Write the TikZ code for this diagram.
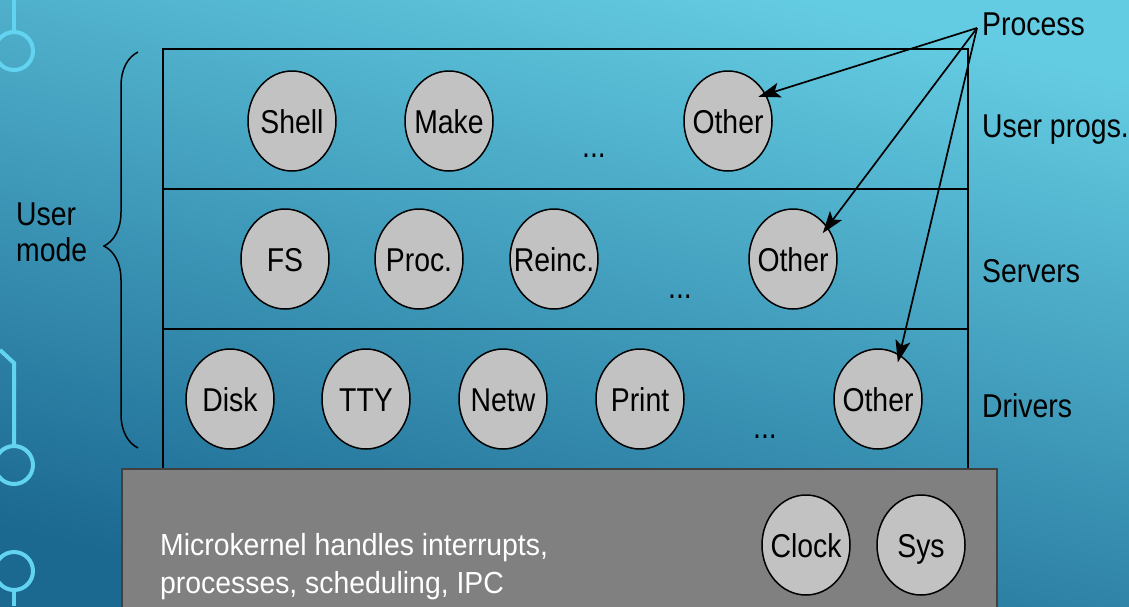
\documentclass[tikz,border=0pt]{standalone}
\usepackage{fontspec}
\setmainfont{Liberation Sans}[FakeStretch=0.86]
\newfontfamily\kernelfont{Liberation Sans}[FakeStretch=0.93]
\usetikzlibrary{shapes.geometric}
\usetikzlibrary{arrows.meta, decorations.pathreplacing}
\definecolor{slideLight}{RGB}{100, 204, 226}
\definecolor{slideDark}{RGB}{27, 104, 145}
\definecolor{traceCyan}{RGB}{98, 212, 242}
\colorlet{proc area}{black!24}
\colorlet{kernel area}{black!50}
\tikzset{
    proc/.style={ellipse, fill=proc area, draw=black, line width=1.5pt,
        minimum width=88pt, minimum height=100pt, inner sep=0pt,
        text height=24pt, text depth=0pt},
    layer/.style={draw=black, line width=2pt},
    trace/.style={draw=traceCyan, line width=4pt},
    pointer/.style={-{Stealth[length=22pt, width=15pt, inset=5pt]},
        line width=1.7pt, shorten >=-8pt},
    sidetext/.style={anchor=base west, inner sep=0pt},
    dotsep/.style={inner sep=0pt}
}
\def\slidebox{(0,0) rectangle (1129,606)}
\def\pn#1{\makebox[0pt]{#1}}

\begin{document}
\begin{tikzpicture}[x=1pt, y=-1pt, font=\fontsize{33}{36}\selectfont]
        % Slide background
        \useasboundingbox \slidebox;
        \clip \slidebox;
        \shade[top color=slideLight, bottom color=slideDark, shading angle=-14] \slidebox;

        % Circuit traces on the left edge
        \draw[trace] (14,0) -- (14,32);
        \draw[trace] (14,51) circle (19pt);
        \draw[trace] (0,350) -- (14,363) -- (14,446);
        \draw[trace] (14,465) circle (19pt);
        \draw[trace] (14,571) circle (19pt);
        \draw[trace] (14,590) -- (14,606);

        % Layers
        \draw[layer] (163,49) rectangle (968,189);
        \draw[layer] (163,189) rectangle (968,329);
        \draw[layer] (163,329) rectangle (968,469);
        \filldraw[fill=kernel area, draw=black!75, line width=2pt] (122,469) rectangle (997,620);

        % User programs
        \node[proc] (shell) at (292,121) {\pn{Shell}};
        \node[proc] (make) at (449,121) {\pn{Make}};
        \node[dotsep] (udots) at (594,156) {...};
        \node[proc] (uother) at (728,121) {\pn{Other}};

        % Servers
        \node[proc] (fs) at (285,259) {\pn{FS}};
        \node[proc] (pm) at (419,259) {\pn{Proc.}};
        \node[proc] (rs) at (554,259) {\pn{Reinc.}};
        \node[dotsep] (sdots) at (680,297) {...};
        \node[proc] (sother) at (793,259) {\pn{Other}};

        % Drivers
        \node[proc] (disk) at (230,399) {\pn{Disk}};
        \node[proc] (tty) at (366,399) {\pn{TTY}};
        \node[proc] (netw) at (503,399) {\pn{Netw}};
        \node[proc] (print) at (640,399) {\pn{Print}};
        \node[dotsep] (ddots) at (765,437) {...};
        \node[proc] (dother) at (878,399) {\pn{Other}};

        % Kernel
        \node[anchor=north west, align=left, inner sep=0pt, text=white,
            font=\kernelfont\fontsize{30.5}{38}\selectfont] (ktext) at (160,533)
            {Microkernel handles interrupts,\\processes, scheduling, IPC};
        \node[proc] (clock) at (806,545) {\pn{Clock}};
        \node[proc] (sys) at (921,545) {\pn{Sys}};

        % Labels
        \node[anchor=north west, align=left, inner sep=0pt] (umode) at (16,203) {User\\mode};
        \node[sidetext] (processlabel) at (982,35) {Process};
        \node[sidetext] (userlabel) at (982,137) {User progs.};
        \node[sidetext] (serverlabel) at (982,282) {Servers};
        \node[sidetext] (driverlabel) at (982,417) {Drivers};

        % Arrows from the label
        \coordinate (fork) at (977,28);
        \draw[pointer] (fork) -- (uother.35);
        \draw[pointer] (fork) -- (sother.43);
        \draw[pointer] (fork) -- (dother.64);

        % Brace
        \draw[decorate, decoration={brace, amplitude=34pt, aspect=0.51}, line width=1.5pt]
            (138,448) -- (138,52);
    \end{tikzpicture}
\end{document}
